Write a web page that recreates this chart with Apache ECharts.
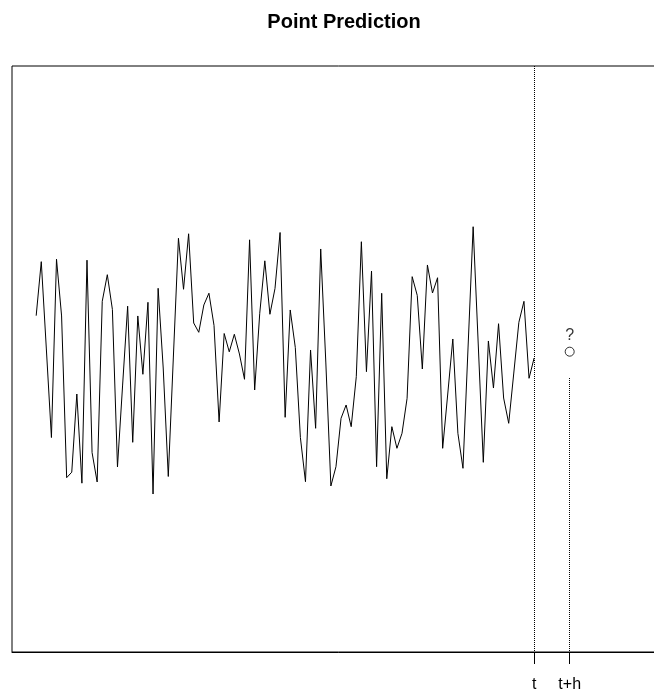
<!DOCTYPE html>
<html>
<head>
<meta charset="utf-8">
<script src="https://cdn.jsdelivr.net/npm/echarts@6/dist/echarts.min.js"></script>
<style>
html,body{margin:0;padding:0;background:#fff;overflow:hidden;width:654px;height:695px;}
#chart{width:665px;height:695px;}
</style>
</head>
<body>
<div id="chart"></div>
<script>
// observed series, time index 1..99
const seriesValues = [
  0.615, 1.382, 0.142, -1.115, 1.417, 0.611, -1.685, -1.607, -0.497, -1.763,
  1.403, -1.328, -1.746, 0.819, 1.197, 0.703, -1.533, -0.383, 0.750, -1.183,
  0.611, -0.217, 0.805, -1.917, 1.004, -0.128, -1.668, 0.028, 1.714, 0.990,
  1.778, 0.511, 0.379, 0.767, 0.934, 0.476, -0.894, 0.362, 0.102, 0.351,
  0.071, -0.288, 1.692, -0.440, 0.649, 1.394, 0.635, 1.001, 1.796, -0.828,
  0.696, 0.163, -1.115, -1.742, 0.128, -0.984, 1.562, -0.043, -1.803, -1.529,
  -0.842, -0.653, -0.961, -0.251, 1.665, -0.180, 1.249, -1.529, 0.933, -1.700,
  -0.961, -1.268, -1.055, -0.558, 1.169, 0.902, -0.142, 1.335, 0.937, 1.154,
  -1.268, -0.497, 0.284, -1.055, -1.552, 0.170, 1.878, 0.213, -1.467, 0.256,
  -0.412, 0.501, -0.554, -0.913, -0.199, 0.521, 0.819, -0.274, 0.014
];
const tIndex = 99;
const horizon = 7;
const predValue = 0.104;
const predGuideTop = -0.27;
const tickValues = [tIndex, tIndex + horizon];
const tickLabels = ['t', 't+h'];
const xLimits = [-3.76, 124.76];
const yLimits = [-4.16, 4.16];

const lineData = seriesValues.map((v, i) => [i + 1, v]);
const FONT = 'Liberation Sans, Arial, Helvetica, sans-serif';

const chart = echarts.init(document.getElementById('chart'), null, {renderer: 'canvas'});
chart.setOption({
  animation: false,
  backgroundColor: '#fff',
  title: {
    text: 'Point Prediction',
    left: 339, top: 7, textAlign: 'center',
    textStyle: {fontFamily: FONT, fontWeight: 'bold', fontSize: 20, color: '#000'}
  },
  grid: {left: 12, right: 0, top: 66, bottom: 43, show: true, borderColor: '#000', borderWidth: 1, containLabel: false},
  xAxis: {
    type: 'value', min: xLimits[0], max: xLimits[1],
    axisLine: {show: true, onZero: false, lineStyle: {color: '#000', width: 1}},
    splitLine: {show: false},
    axisTick: {show: true, customValues: tickValues, length: 12, lineStyle: {color: '#000', width: 1}},
    axisLabel: {
      show: true, customValues: tickValues, margin: 25,
      fontFamily: FONT, fontSize: 16, color: '#000',
      formatter: function (v) { const i = tickValues.indexOf(v); return i >= 0 ? tickLabels[i] : ''; }
    }
  },
  yAxis: {
    type: 'value', min: yLimits[0], max: yLimits[1],
    show: false, splitLine: {show: false}
  },
  series: [
    {
      type: 'line', data: lineData, showSymbol: false, silent: true,
      lineStyle: {color: '#000', width: 1},
      markLine: {
        silent: true, symbol: 'none', label: {show: false},
        lineStyle: {color: '#000', type: 'dotted', width: 1},
        data: [
          [{coord: [tIndex, yLimits[1]]}, {coord: [tIndex, yLimits[0]]}],
          [{coord: [tIndex + horizon, predGuideTop]}, {coord: [tIndex + horizon, yLimits[0]]}]
        ]
      }
    },
    {
      type: 'scatter', data: [[tIndex + horizon, predValue]], symbol: 'circle', symbolSize: 9, silent: true,
      itemStyle: {color: '#fff', borderColor: '#000', borderWidth: 1},
      label: {show: true, position: 'top', distance: 3, formatter: '?', fontFamily: FONT, fontSize: 16, color: '#000'}
    }
  ]
});
</script>
</body>
</html>
